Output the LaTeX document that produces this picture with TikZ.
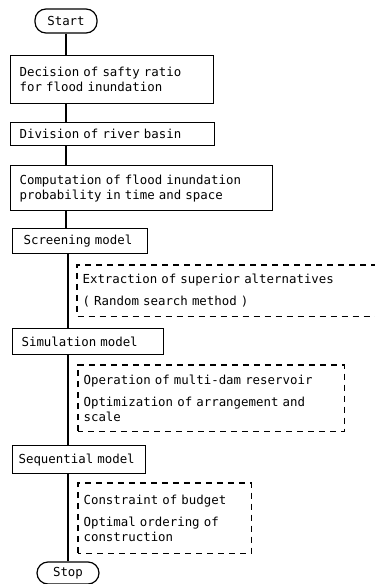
\documentclass[tikz,border=0pt]{standalone}
\usepackage{fontspec}
\newfontfamily\prtfont{DejaVu Sans Mono}
\usetikzlibrary{positioning}

\begin{document}
\begin{tikzpicture}
  [x=1pt,y=-1pt,
   every node/.style={font=\prtfont\fontsize{12.4}{15}\selectfont},
   procN/.style={draw,line width=1.2pt,anchor=north west,align=left,
                 inner xsep=9pt,inner ysep=2pt},
   noteN/.style={anchor=north west,align=left,inner xsep=5pt,inner ysep=2pt},
   noteL/.style={line width=1.1pt,dash pattern=on 6pt off 5pt},
   termN/.style={draw,line width=1.2pt,rounded corners=11pt,
                 minimum width=62pt,minimum height=24pt,inner sep=0pt},
   line width=1.2pt]

  \useasboundingbox (0,0) rectangle (375,584);

  \node[termN] (start) at (66,21) {Start};

  \node[procN,text width=185pt,minimum height=48pt] (dec) at (10,55)
    {Decision of safty ratio\\for flood inundation};
  \node[procN,text width=186pt,minimum height=23pt] (div) at (10,122)
    {Division of river basin};
  \node[procN,text width=244pt,minimum height=45pt] (comp) at (10,165)
    {Computation of flood inundation\\probability in time and space};

  \node[procN,inner xsep=11pt,text width=113pt,minimum height=25pt] (scr) at (12,228)
    {Screening model};
  \node[noteN,text width=289pt,minimum height=50pt] (ext) at (77,265)
    {Extraction of superior alternatives\\[7pt]( Random search method )};

  \node[procN,text width=133pt,minimum height=26pt] (sim) at (12,328)
    {Simulation model};
  \node[noteN,text width=255pt,minimum height=65pt] (ope) at (78,365)
    {Operation of multi-dam reservoir\\[7pt]Optimization of arrangement and\\scale};

  \node[procN,inner xsep=6pt,text width=121pt,minimum height=28pt] (seq) at (12,445)
    {Sequential model};
  \node[noteN,text width=162pt,minimum height=69pt] (con) at (78,483)
    {Constraint of budget\\[7pt]Optimal ordering of\\construction};

  \node[termN,minimum height=22pt] (stop) at (68,573) {Stop};

  \draw [] (start) -- (start |- dec.north);
  \draw [] (start |- dec.south) -- (start |- div.north);
  \draw [] (start |- div.south) -- (start |- comp.north);
  \draw [] (start |- comp.south) -- (start |- scr.north);
  \draw [] (stop |- scr.south) -- (stop |- sim.north);
  \draw [] (stop |- sim.south) -- (stop |- seq.north);
  \draw [] (stop |- seq.south) -- (stop);

  \draw [noteL] (ext.north east) -| (ext.south west) -- (ext.south east);
  \draw [noteL] (ope.south west) rectangle (ope.north east);
  \draw [noteL] (con.south west) rectangle (con.north east);
\end{tikzpicture}
\end{document}
